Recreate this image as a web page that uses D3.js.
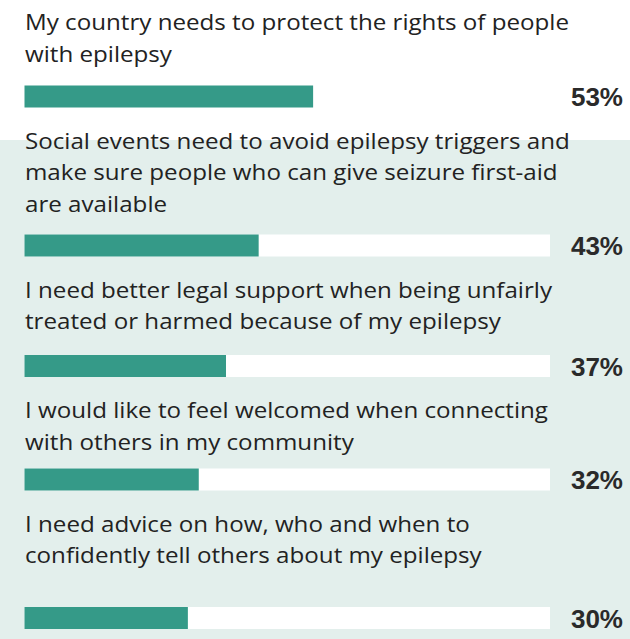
<!DOCTYPE html>
<html>
<head>
<meta charset="utf-8">
<script src="https://cdn.jsdelivr.net/npm/d3@7"></script>
<style>
  html, body { margin: 0; padding: 0; background: #ffffff; }
  svg { display: block; }
</style>
</head>
<body>
<div id="chart"></div>
<script>
// ---- data ----
const statements = [
  ["My country needs to protect the rights of people", "with epilepsy"],
  ["Social events need to avoid epilepsy triggers and", "make sure people who can give seizure first-aid", "are available"],
  ["I need better legal support when being unfairly", "treated or harmed because of my epilepsy"],
  ["I would like to feel welcomed when connecting", "with others in my community"],
  ["I need advice on how, who and when to", "confidently tell others about my epilepsy"]
];
const percentages = [53, 43, 37, 32, 30];
const percentLabels = ["53%", "43%", "37%", "32%", "30%"];

// ---- layout (not data) ----
const W = 630, H = 639;
const lineH = 31.5;
const firstBaseline = 30;
const textToBar = [24, 23, 26, 19, 44];
const barH = 22;
const rowGap = 11;
const bgTop = 140;
const textStretch = 1.098;

const svg = d3.select("#chart").append("svg")
  .attr("width", W).attr("height", H);

svg.append("rect").attr("x", 0).attr("y", bgTop)
  .attr("width", W).attr("height", H - bgTop).attr("fill", "#e3efec");

const x = d3.scaleLinear().domain([0, 96.5]).range([24.5, 550]);

// compute row positions cumulatively
let cursor = 0;
const rows = statements.map((lines, i) => {
  const top = cursor;
  const baselines = lines.map((_, j) => top + firstBaseline + j * lineH);
  const barY = baselines[baselines.length - 1] + textToBar[i];
  cursor = barY + barH + rowGap;
  return { lines, baselines, barY, value: percentages[i], label: percentLabels[i], i };
});

const g = svg.selectAll("g.row").data(rows).join("g").attr("class", "row");

g.each(function (d) {
  const sel = d3.select(this);
  sel.selectAll("text.lbl").data(d.lines).join("text")
    .attr("class", "lbl")
    .attr("transform", (_, j) => `translate(25,${d.baselines[j]}) scale(${textStretch},1)`)
    .attr("font-family", "'Open Sans', sans-serif")
    .attr("font-size", 22)
    .attr("fill", "#222222")
    .text(t => t);
});

g.append("rect")
  .attr("x", x(0)).attr("y", d => d.barY)
  .attr("width", x.range()[1] - x(0)).attr("height", barH)
  .attr("fill", "#ffffff");

g.append("rect")
  .attr("x", x(0)).attr("y", d => d.barY)
  .attr("width", d => x(d.value) - x(0)).attr("height", barH)
  .attr("fill", "#359a88");

g.append("text")
  .attr("x", 623)
  .attr("y", d => d.barY + barH / 2 + 9.5)
  .attr("text-anchor", "end")
  .attr("font-family", "'Liberation Sans', Arial, sans-serif")
  .attr("font-weight", "bold")
  .attr("font-size", 26)
  .attr("fill", "#2a2a2a")
  .text(d => d.label);
</script>
</body>
</html>
